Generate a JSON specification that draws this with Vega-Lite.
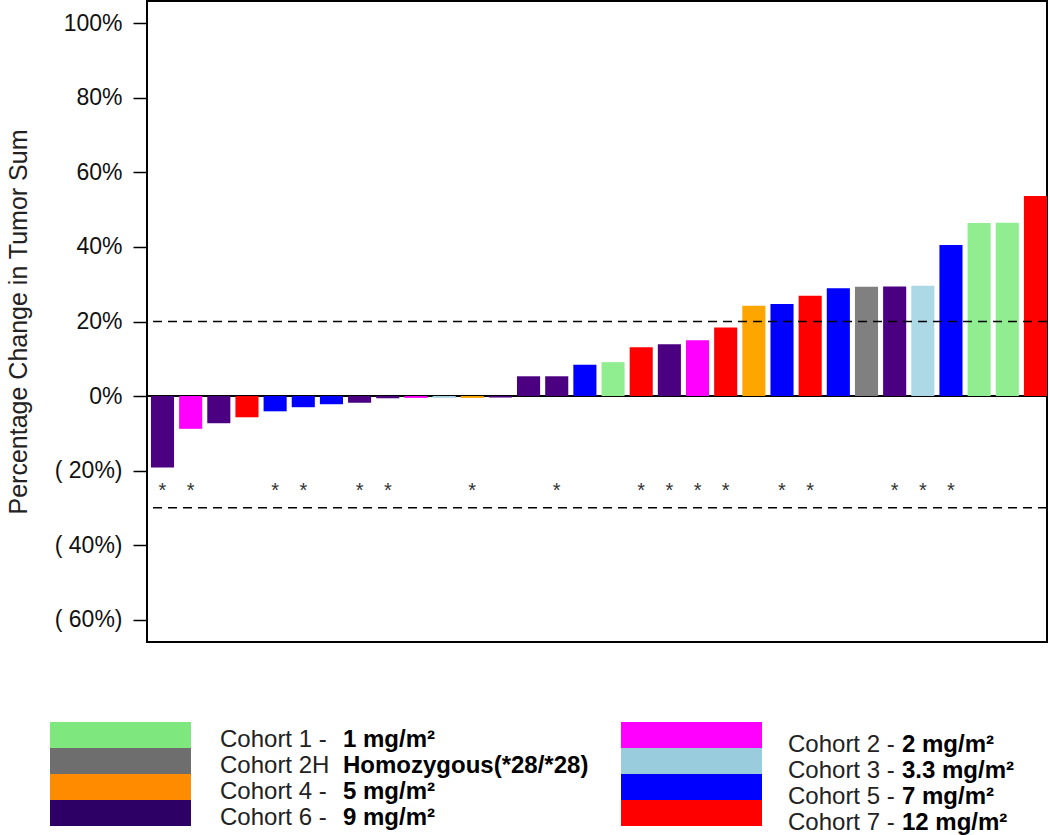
{
  "$schema": "https://vega.github.io/schema/vega-lite/v6.json",
  "background": "white",
  "padding": {"left": 6, "top": 1, "right": 0, "bottom": 0},
  "config": {"font": "Liberation Sans"},
  "datasets": {
    "bars": [
      {"id": 1, "cohort": "C6", "pct": -19.2, "star": true},
      {"id": 2, "cohort": "C2", "pct": -8.8, "star": true},
      {"id": 3, "cohort": "C6", "pct": -7.3, "star": false},
      {"id": 4, "cohort": "C7", "pct": -5.7, "star": false},
      {"id": 5, "cohort": "C5", "pct": -4.1, "star": true},
      {"id": 6, "cohort": "C5", "pct": -3.0, "star": true},
      {"id": 7, "cohort": "C5", "pct": -2.2, "star": false},
      {"id": 8, "cohort": "C6", "pct": -1.8, "star": true},
      {"id": 9, "cohort": "C6", "pct": -0.6, "star": true},
      {"id": 10, "cohort": "C2", "pct": -0.5, "star": false},
      {"id": 11, "cohort": "C3", "pct": -0.5, "star": false},
      {"id": 12, "cohort": "C4", "pct": -0.5, "star": true},
      {"id": 13, "cohort": "C6", "pct": -0.4, "star": false},
      {"id": 14, "cohort": "C6", "pct": 5.3, "star": false},
      {"id": 15, "cohort": "C6", "pct": 5.3, "star": true},
      {"id": 16, "cohort": "C5", "pct": 8.4, "star": false},
      {"id": 17, "cohort": "C1", "pct": 9.1, "star": false},
      {"id": 18, "cohort": "C7", "pct": 13.1, "star": true},
      {"id": 19, "cohort": "C6", "pct": 13.9, "star": true},
      {"id": 20, "cohort": "C2", "pct": 15.0, "star": true},
      {"id": 21, "cohort": "C7", "pct": 18.4, "star": true},
      {"id": 22, "cohort": "C4", "pct": 24.2, "star": false},
      {"id": 23, "cohort": "C5", "pct": 24.7, "star": true},
      {"id": 24, "cohort": "C7", "pct": 26.9, "star": true},
      {"id": 25, "cohort": "C5", "pct": 28.9, "star": false},
      {"id": 26, "cohort": "C2H", "pct": 29.3, "star": false},
      {"id": 27, "cohort": "C6", "pct": 29.4, "star": true},
      {"id": 28, "cohort": "C3", "pct": 29.6, "star": true},
      {"id": 29, "cohort": "C5", "pct": 40.5, "star": true},
      {"id": 30, "cohort": "C1", "pct": 46.4, "star": false},
      {"id": 31, "cohort": "C1", "pct": 46.5, "star": false},
      {"id": 32, "cohort": "C7", "pct": 53.7, "star": false}
    ],
    "legend": [
      {"side": "L", "slot": 1, "cohort": "C1", "name": "Cohort 1 -", "dose": "1 mg/m²"},
      {"side": "L", "slot": 2, "cohort": "C2H", "name": "Cohort 2H", "dose": "Homozygous(*28/*28)"},
      {"side": "L", "slot": 3, "cohort": "C4", "name": "Cohort 4 -", "dose": "5 mg/m²"},
      {"side": "L", "slot": 4, "cohort": "C6", "name": "Cohort 6 -", "dose": "9 mg/m²"},
      {"side": "R", "slot": 1, "cohort": "C2", "name": "Cohort 2 -", "dose": "2 mg/m²"},
      {"side": "R", "slot": 2, "cohort": "C3", "name": "Cohort 3 -", "dose": "3.3 mg/m²"},
      {"side": "R", "slot": 3, "cohort": "C5", "name": "Cohort 5 -", "dose": "7 mg/m²"},
      {"side": "R", "slot": 4, "cohort": "C7", "name": "Cohort 7 -", "dose": "12 mg/m²"}
    ]
  },
  "width": 900,
  "height": 641,
  "view": {"stroke": "#000", "strokeWidth": 2},
  "resolve": {"scale": {"x": "independent", "y": "independent", "color": "independent"}},
  "layer": [
    {
      "data": {"name": "bars"},
      "encoding": {
        "y": {
          "field": "pct",
          "type": "quantitative",
          "title": "Percentage Change in Tumor Sum",
          "scale": {"domain": [-66, 106], "nice": false, "zero": false},
          "axis": {
            "values": [-60, -40, -20, 0, 20, 40, 60, 80, 100],
            "labelExpr": "datum.value < 0 ? '( ' + abs(datum.value) + '%)' : datum.value + '%'",
            "grid": false,
            "domain": false,
            "tickSize": 14,
            "tickColor": "#000",
            "tickWidth": 1.5,
            "labelPadding": 11,
            "labelFont": "Liberation Sans",
            "labelFontSize": 23,
            "labelColor": "#111",
            "titleFont": "Liberation Sans",
            "titleFontSize": 25,
            "titleFontWeight": "normal",
            "titleColor": "#222",
            "titlePadding": 23
          }
        }
      },
      "layer": [
        {
          "data": {"values": [{"level": 0}]},
          "mark": {"type": "rule", "color": "#000", "strokeWidth": 2},
          "encoding": {"y": {"field": "level", "type": "quantitative"}}
        },
        {
          "mark": {"type": "bar"},
          "encoding": {
            "x": {"field": "id", "type": "ordinal", "sort": null, "axis": null,
                  "scale": {"paddingInner": 0.18, "paddingOuter": 0.07, "align": 1}},
            "color": {
              "field": "cohort",
              "type": "nominal",
              "legend": null,
              "scale": {
                "domain": ["C1", "C2", "C2H", "C3", "C4", "C5", "C6", "C7"],
                "range": ["#90EE90", "#FF00FF", "#808080", "#ADD8E6", "#FFA500", "#0000FF", "#4B0082", "#FF0000"]
              }
            }
          }
        },
        {
          "data": {"values": [{"level": 20}, {"level": -30}]},
          "mark": {"type": "rule", "color": "#000", "strokeWidth": 1.5, "strokeDash": [9, 6]},
          "encoding": {"y": {"field": "level", "type": "quantitative"}}
        },
        {
          "transform": [{"filter": "datum.star"}],
          "mark": {"type": "text", "text": "*", "fontSize": 20, "color": "#333", "baseline": "alphabetic", "font": "Liberation Sans"},
          "encoding": {
            "x": {"field": "id", "type": "ordinal", "sort": null, "axis": null},
            "y": {"datum": -27}
          }
        }
      ]
    },
    {
      "data": {"name": "legend"},
      "mark": {"type": "rect", "clip": false},
      "encoding": {
        "x": {"field": "side", "type": "nominal", "axis": null,
              "scale": {"type": "band", "domain": ["L", "R"], "range": [-97, 615], "paddingInner": 0.7531, "paddingOuter": 0}},
        "y": {"field": "slot", "type": "ordinal", "axis": null,
              "scale": {"type": "band", "domain": [1, 2, 3, 4], "range": [721, 825], "paddingInner": 0, "paddingOuter": 0}},
        "color": {
          "field": "cohort", "type": "nominal", "legend": null,
          "scale": {
            "domain": ["C1", "C2", "C2H", "C3", "C4", "C5", "C6", "C7"],
            "range": ["#7EE87E", "#FF00FF", "#6E6E6E", "#99CCDD", "#FF8C00", "#0000FF", "#2D0066", "#FF0000"]
          }
        }
      }
    },
    {
      "data": {"name": "legend"},
      "transform": [{"filter": "datum.side === 'L'"}],
      "mark": {"type": "text", "align": "left", "baseline": "middle", "dy": 5, "fontSize": 24, "font": "Liberation Sans", "color": "#222"},
      "encoding": {
        "x": {"field": "side", "type": "nominal", "axis": null,
              "scale": {"type": "point", "domain": ["L", "R"], "range": [73, 641], "padding": 0}},
        "y": {"field": "slot", "type": "ordinal", "axis": null,
              "scale": {"type": "band", "domain": [1, 2, 3, 4], "range": [721, 825], "paddingInner": 0, "paddingOuter": 0}},
        "text": {"field": "name"}
      }
    },
    {
      "data": {"name": "legend"},
      "transform": [{"filter": "datum.side === 'L'"}],
      "mark": {"type": "text", "align": "left", "baseline": "middle", "dy": 5, "fontSize": 24, "fontWeight": "bold", "font": "Liberation Sans", "color": "#000"},
      "encoding": {
        "x": {"field": "side", "type": "nominal", "axis": null,
              "scale": {"type": "point", "domain": ["L", "R"], "range": [196, 755], "padding": 0}},
        "y": {"field": "slot", "type": "ordinal", "axis": null,
              "scale": {"type": "band", "domain": [1, 2, 3, 4], "range": [721, 825], "paddingInner": 0, "paddingOuter": 0}},
        "text": {"field": "dose"}
      }
    },
    {
      "data": {"name": "legend"},
      "transform": [{"filter": "datum.side === 'R'"}],
      "mark": {"type": "text", "align": "left", "baseline": "middle", "dy": 10, "fontSize": 24, "font": "Liberation Sans", "color": "#222"},
      "encoding": {
        "x": {"field": "side", "type": "nominal", "axis": null,
              "scale": {"type": "point", "domain": ["L", "R"], "range": [73, 641], "padding": 0}},
        "y": {"field": "slot", "type": "ordinal", "axis": null,
              "scale": {"type": "band", "domain": [1, 2, 3, 4], "range": [721, 825], "paddingInner": 0, "paddingOuter": 0}},
        "text": {"field": "name"}
      }
    },
    {
      "data": {"name": "legend"},
      "transform": [{"filter": "datum.side === 'R'"}],
      "mark": {"type": "text", "align": "left", "baseline": "middle", "dy": 10, "fontSize": 24, "fontWeight": "bold", "font": "Liberation Sans", "color": "#000"},
      "encoding": {
        "x": {"field": "side", "type": "nominal", "axis": null,
              "scale": {"type": "point", "domain": ["L", "R"], "range": [196, 755], "padding": 0}},
        "y": {"field": "slot", "type": "ordinal", "axis": null,
              "scale": {"type": "band", "domain": [1, 2, 3, 4], "range": [721, 825], "paddingInner": 0, "paddingOuter": 0}},
        "text": {"field": "dose"}
      }
    }
  ]
}
